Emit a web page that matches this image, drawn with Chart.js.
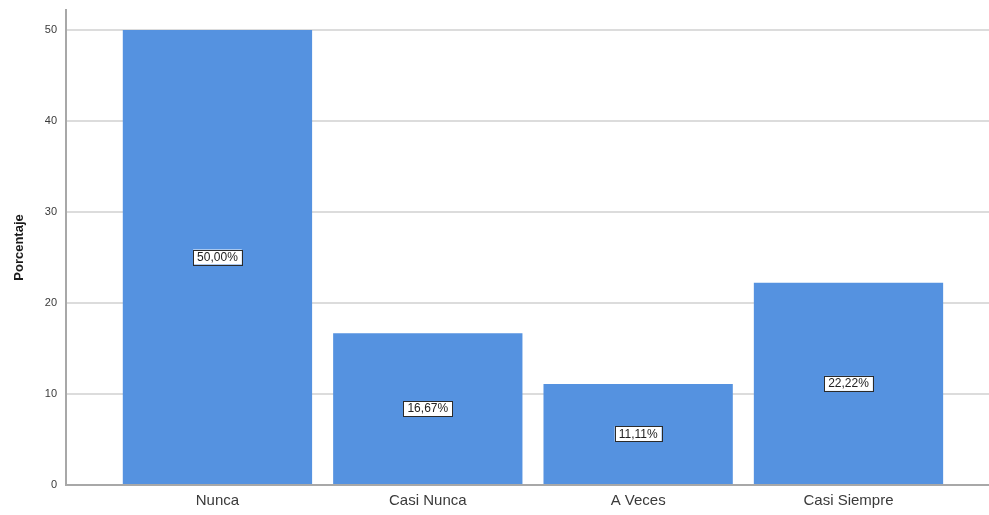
<!DOCTYPE html>
<html>
<head>
<meta charset="utf-8">
<script src="https://cdn.jsdelivr.net/npm/chart.js"></script>
<style>
  html, body { margin: 0; padding: 0; background: #fff; }
  #wrap { width: 989px; height: 515px; }
</style>
</head>
<body>
<div id="wrap"><canvas id="chart" width="989" height="515"></canvas></div>
<script>
// Datos del gráfico
const categorias = ['Nunca', 'Casi Nunca', 'A Veces', 'Casi Siempre'];
const porcentajes = [50.00, 16.67, 11.11, 22.22];
const ticksY = [0, 10, 20, 30, 40, 50];
const posiciones = [1, 2, 3, 4];

// Etiquetas con recuadro en el centro de cada barra
const etiquetasBarras = {
    id: 'etiquetasBarras',
    afterDatasetsDraw(chart) {
        const ctx = chart.ctx;
        const meta = chart.getDatasetMeta(0);
        ctx.save();
        ctx.font = '12px "Liberation Sans", Arial, sans-serif';
        ctx.textAlign = 'center';
        ctx.textBaseline = 'middle';
        meta.data.forEach((bar, i) => {
            const texto = porcentajes[i].toFixed(2).replace('.', ',') + '%';
            const cx = bar.x;
            const cy = (bar.y + bar.base) / 2;
            const w = ctx.measureText(texto).width + 8;
            const h = 15;
            ctx.fillStyle = '#ffffff';
            ctx.fillRect(cx - w / 2, cy - h / 2, w, h);
            ctx.strokeStyle = '#2b2b2b';
            ctx.lineWidth = 1;
            ctx.strokeRect(Math.round(cx - w / 2) + 0.5, Math.round(cy - h / 2) + 0.5, Math.round(w), h);
            ctx.fillStyle = '#222';
            ctx.fillText(texto, cx, cy + 0.5);
        });
        ctx.restore();
    }
};

new Chart(document.getElementById('chart').getContext('2d'), {
    type: 'bar',
    data: {
        datasets: [{
            data: posiciones.map((p, i) => ({ x: p, y: porcentajes[i] })),
            backgroundColor: '#5592e0',
            borderWidth: 0,
            barPercentage: 0.9,
            categoryPercentage: 1
        }]
    },
    options: {
        responsive: false,
        animation: false,
        layout: { padding: { top: 10, right: 0, left: 0, bottom: 0 } },
        plugins: {
            legend: { display: false },
            tooltip: { enabled: false }
        },
        scales: {
            x: {
                type: 'linear',
                offset: false,
                min: 0.28,
                max: 4.668,
                grid: { display: false, drawTicks: false },
                border: { display: true, color: '#a8a8a8', width: 2 },
                afterBuildTicks: axis => { axis.ticks = posiciones.map(v => ({ value: v })); },
                afterFit: axis => {
                    axis.height = 30;
                    axis.paddingLeft = 0;
                    axis.paddingRight = 0;
                },
                ticks: {
                    autoSkip: false,
                    maxRotation: 0,
                    padding: 7,
                    color: '#3a3a3a',
                    font: { family: '"Liberation Sans", Arial, sans-serif', size: 15 },
                    callback: value => categorias[value - 1]
                }
            },
            y: {
                min: 0,
                max: 52.2,
                grid: { color: '#dcdcdc', lineWidth: 2, drawTicks: false },
                border: { display: true, color: '#a8a8a8', width: 2 },
                afterBuildTicks: axis => { axis.ticks = ticksY.map(v => ({ value: v })); },
                afterFit: axis => {
                    axis.width = 66;
                    axis.paddingTop = 0;
                    axis.paddingBottom = 0;
                },
                ticks: {
                    padding: 9,
                    color: '#3a3a3a',
                    font: { family: '"Liberation Sans", Arial, sans-serif', size: 11 }
                },
                title: {
                    display: true,
                    text: 'Porcentaje',
                    color: '#1a1a1a',
                    padding: { top: 12, bottom: 0 },
                    font: { family: '"Liberation Sans", Arial, sans-serif', size: 13, weight: 'bold' }
                }
            }
        }
    },
    plugins: [etiquetasBarras]
});
</script>
</body>
</html>
